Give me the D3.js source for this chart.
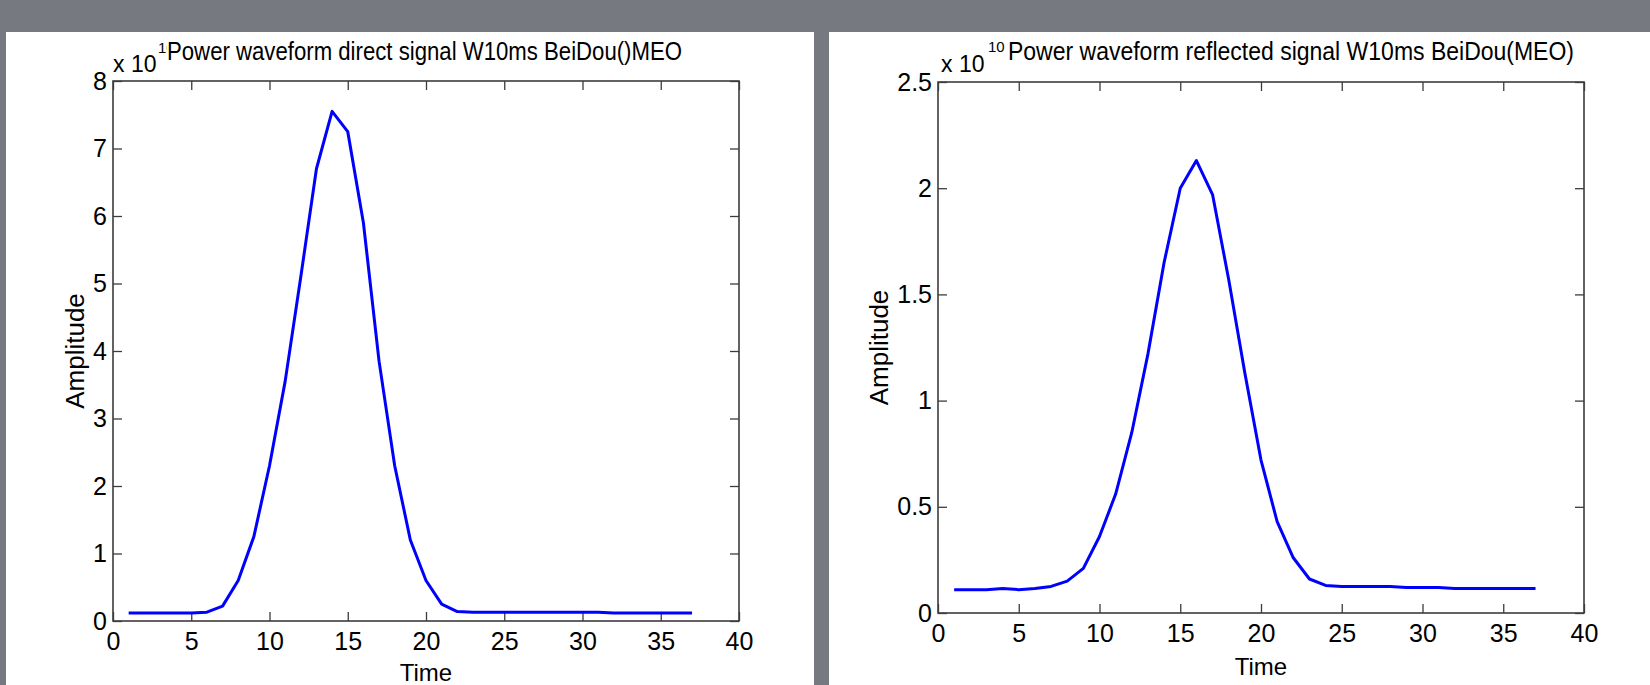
<!DOCTYPE html>
<html>
<head>
<meta charset="utf-8">
<script src="https://cdn.jsdelivr.net/npm/d3@7"></script>
<style>
  html, body { margin: 0; padding: 0; background: #767a80; }
  svg { display: block; }
  text { font-family: "Liberation Sans", Arial, Helvetica, sans-serif; fill: #000; }
</style>
</head>
<body>
<svg id="chart" width="1650" height="685"></svg>
<script>
// Sample index of each correlation lag
const time = [1, 2, 3, 4, 5, 6, 7, 8, 9, 10, 11, 12, 13, 14, 15, 16, 17, 18, 19,
              20, 21, 22, 23, 24, 25, 26, 27, 28, 29, 30, 31, 32, 33, 34, 35, 36, 37];

// Direct-signal power waveform, units of 1e10
const directAmplitude = [0.12, 0.12, 0.12, 0.12, 0.12, 0.13, 0.22, 0.60, 1.25, 2.30,
                         3.55, 5.10, 6.70, 7.55, 7.25, 5.90, 3.85, 2.30, 1.20, 0.60,
                         0.25, 0.14, 0.13, 0.13, 0.13, 0.13, 0.13, 0.13, 0.13, 0.13,
                         0.13, 0.12, 0.12, 0.12, 0.12, 0.12, 0.12];

// Reflected-signal power waveform, units of 1e10
const reflectedAmplitude = [0.11, 0.11, 0.11, 0.115, 0.11, 0.115, 0.125, 0.15, 0.21, 0.36,
                            0.56, 0.85, 1.22, 1.65, 2.00, 2.13, 1.97, 1.57, 1.13, 0.72,
                            0.43, 0.26, 0.16, 0.13, 0.125, 0.125, 0.125, 0.125, 0.12, 0.12,
                            0.12, 0.115, 0.115, 0.115, 0.115, 0.115, 0.115];

const timeTicks = [0, 5, 10, 15, 20, 25, 30, 35, 40];
const directTicks = [0, 1, 2, 3, 4, 5, 6, 7, 8];
const reflectedTicks = [0, 0.5, 1, 1.5, 2, 2.5];

const directTitle = "Power waveform direct signal W10ms BeiDou()MEO";
const reflectedTitle = "Power waveform reflected signal W10ms BeiDou(MEO)";
const xLabel = "Time";
const yLabel = "Amplitude";
const exponentBase = "x 10";
const exponentPower = "10";

const svg = d3.select("#chart");

const panels = [
  {
    values: directAmplitude, yTicks: directTicks, yMax: 8, title: directTitle,
    sheet: { x: 6, y: 32, w: 808, h: 653 },
    plot: { x0: 113, x1: 739, y0: 621, y1: 81 },
    titleX: 167, titleW: 515, titleY: 60,
    expX: 113, expY: 72, supX: 158, supY: 53,
    yLabelX: 84, xLabelY: 681
  },
  {
    values: reflectedAmplitude, yTicks: reflectedTicks, yMax: 2.5, title: reflectedTitle,
    sheet: { x: 829, y: 32, w: 821, h: 653 },
    plot: { x0: 938, x1: 1584, y0: 613, y1: 82 },
    titleX: 1008, titleW: 566, titleY: 60,
    expX: 941, expY: 72, supX: 988, supY: 52,
    yLabelX: 888, xLabelY: 675
  }
];

const tickLen = 9;
const axisColor = "#3c3c3c";

panels.forEach(p => {
  const g = svg.append("g");

  // white figure sheet
  g.append("rect")
    .attr("x", p.sheet.x).attr("y", p.sheet.y)
    .attr("width", p.sheet.w).attr("height", p.sheet.h)
    .attr("fill", "#ffffff");

  const x = d3.scaleLinear().domain([0, 40]).range([p.plot.x0, p.plot.x1]);
  const y = d3.scaleLinear().domain([0, p.yMax]).range([p.plot.y0, p.plot.y1]);

  // inward ticks on all four sides, labels on bottom and left only
  const styleAxis = sel => {
    sel.select(".domain").remove();
    sel.selectAll(".tick line").attr("stroke", axisColor).attr("stroke-width", 1.3);
    sel.selectAll(".tick text").attr("font-size", 25).attr("fill", "#000")
      .attr("font-family", "Liberation Sans, Arial, sans-serif");
  };

  g.append("g").attr("transform", `translate(0,${p.plot.y0})`)
    .call(d3.axisBottom(x).tickValues(timeTicks).tickSize(-tickLen).tickPadding(11)
      .tickFormat(d3.format("d")))
    .call(styleAxis);
  g.append("g").attr("transform", `translate(0,${p.plot.y1})`)
    .call(d3.axisTop(x).tickValues(timeTicks).tickSize(-tickLen).tickFormat(""))
    .call(styleAxis);
  g.append("g").attr("transform", `translate(${p.plot.x0},0)`)
    .call(d3.axisLeft(y).tickValues(p.yTicks).tickSize(-tickLen).tickPadding(6)
      .tickFormat(d => String(d)))
    .call(styleAxis);
  g.append("g").attr("transform", `translate(${p.plot.x1},0)`)
    .call(d3.axisRight(y).tickValues(p.yTicks).tickSize(-tickLen).tickFormat(""))
    .call(styleAxis);

  // axes box
  g.append("rect")
    .attr("x", p.plot.x0).attr("y", p.plot.y1)
    .attr("width", p.plot.x1 - p.plot.x0).attr("height", p.plot.y0 - p.plot.y1)
    .attr("fill", "none").attr("stroke", axisColor).attr("stroke-width", 1.6);

  // waveform
  const line = d3.line().x((d, i) => x(time[i])).y(d => y(d));
  g.append("path")
    .datum(p.values)
    .attr("d", line)
    .attr("fill", "none")
    .attr("stroke", "#0000ff")
    .attr("stroke-width", 3)
    .attr("stroke-linejoin", "round");

  // axis multiplier
  g.append("text")
    .attr("x", p.expX).attr("y", p.expY)
    .attr("font-size", 23)
    .text(exponentBase);
  g.append("text")
    .attr("x", p.supX).attr("y", p.supY)
    .attr("font-size", 15)
    .text(exponentPower);

  // title
  const title = g.append("text")
    .attr("x", p.titleX).attr("y", p.titleY)
    .attr("font-size", 25)
    .attr("textLength", p.titleW)
    .attr("lengthAdjust", "spacingAndGlyphs")
    .text(p.title);
  const bb = title.node().getBBox();
  g.insert("rect", function () { return title.node(); })
    .attr("x", bb.x).attr("y", bb.y + 2)
    .attr("width", 10).attr("height", bb.height - 8)
    .attr("fill", "#ffffff");

  // axis labels
  g.append("text")
    .attr("x", (p.plot.x0 + p.plot.x1) / 2).attr("y", p.xLabelY)
    .attr("text-anchor", "middle")
    .attr("font-size", 24)
    .text(xLabel);
  g.append("text")
    .attr("transform", `translate(${p.yLabelX},${(p.plot.y0 + p.plot.y1) / 2}) rotate(-90)`)
    .attr("text-anchor", "middle")
    .attr("font-size", 26)
    .text(yLabel);
});
</script>
</body>
</html>
